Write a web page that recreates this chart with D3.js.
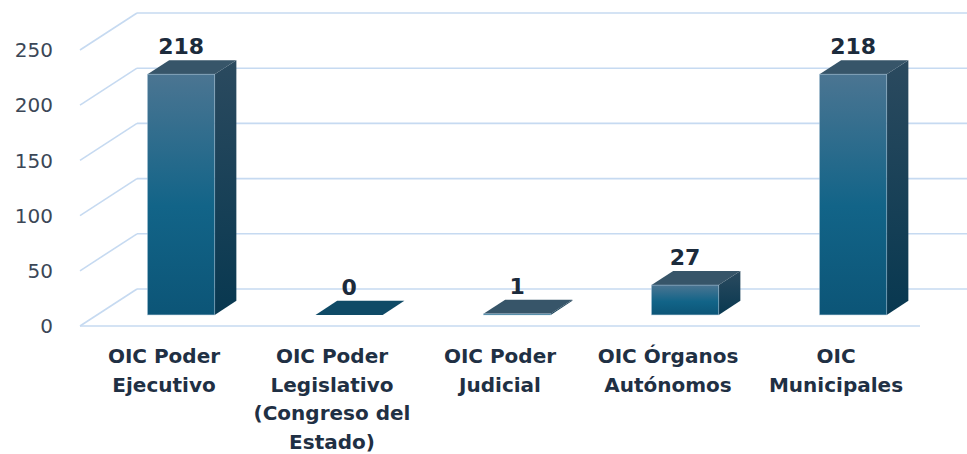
<!DOCTYPE html>
<html>
<head>
<meta charset="utf-8">
<script src="https://cdn.jsdelivr.net/npm/d3@7"></script>
<style>
  html, body { margin: 0; padding: 0; background: #fff; }
  svg { display: block; }
</style>
</head>
<body>
<svg id="chart" width="967" height="454"></svg>
<script>
// data
const categories = [
  ['OIC Poder', 'Ejecutivo'],
  ['OIC Poder', 'Legislativo', '(Congreso del', 'Estado)'],
  ['OIC Poder', 'Judicial'],
  ['OIC Órganos', 'Autónomos'],
  ['OIC', 'Municipales']
];
const values = [218, 0, 1, 27, 218];
const yTicks = [0, 50, 100, 150, 200, 250];

const keys = categories.map((c, i) => 'c' + i);

// oblique "3d" depth: full depth of the box, bars sit in a slice of it
const depth = { dx: 57, dy: -37 };
const barZ = [0.3, 0.68];

const svg = d3.select('#chart');
const g = svg.append('g');

const xScale = d3.scaleBand()
    .domain(keys)
    .range([80, 920])
    .paddingInner(0.6)
    .paddingOuter(0.3);

const yScale = d3.scaleLinear()
    .domain([0, 250])
    .range([326, 50]);

const off = z => [depth.dx * z, depth.dy * z];

// gradients
const defs = svg.append('defs');
const front = defs.append('linearGradient').attr('id', 'front')
    .attr('x1', 0).attr('y1', 0).attr('x2', 0).attr('y2', 1);
front.append('stop').attr('offset', '0%').attr('stop-color', '#4b7592');
front.append('stop').attr('offset', '55%').attr('stop-color', '#126488');
front.append('stop').attr('offset', '100%').attr('stop-color', '#0c5577');
const side = defs.append('linearGradient').attr('id', 'side')
    .attr('x1', 0).attr('y1', 0).attr('x2', 0).attr('y2', 1);
side.append('stop').attr('offset', '0%').attr('stop-color', '#2b4a5f');
side.append('stop').attr('offset', '100%').attr('stop-color', '#083850');

// grid: back wall lines + left wall diagonals + floor front edge
const gridColor = '#c6daf1';
const grid = g.append('g').attr('class', 'grid');
const [bx, by] = off(1);
grid.selectAll('.back-line')
    .data(yTicks)
    .enter().append('line')
    .attr('x1', 80 + bx).attr('x2', 920 + bx)
    .attr('y1', d => yScale(d) + by).attr('y2', d => yScale(d) + by)
    .attr('stroke', gridColor).attr('stroke-width', 1.6);
grid.selectAll('.side-line')
    .data(yTicks)
    .enter().append('line')
    .attr('x1', 80).attr('x2', 80 + bx)
    .attr('y1', d => yScale(d)).attr('y2', d => yScale(d) + by)
    .attr('stroke', gridColor).attr('stroke-width', 1.6);
grid.append('line')
    .attr('x1', 80).attr('x2', 920)
    .attr('y1', yScale(0)).attr('y2', yScale(0))
    .attr('stroke', gridColor).attr('stroke-width', 1.6);

// y axis labels
g.selectAll('.ytick')
    .data(yTicks)
    .enter().append('text')
    .attr('x', 53)
    .attr('y', d => yScale(d))
    .attr('dy', '0.36em')
    .attr('text-anchor', 'end')
    .style('font-family', 'DejaVu Sans')
    .style('font-size', '20px')
    .style('fill', '#3b4757')
    .text(d => d);

// bars
const [fx, fy] = off(barZ[0]);
const [kx, ky] = off(barZ[1]);
const w = xScale.bandwidth();
const y0 = yScale(0);

const bars = g.selectAll('.bar')
    .data(values.map((v, i) => ({ key: keys[i], value: v })))
    .enter().append('g')
    .attr('class', 'bar');

// side face
bars.append('polygon')
    .attr('points', d => {
        const x = xScale(d.key), y = yScale(d.value);
        return [[x + w + fx, y + fy], [x + w + kx, y + ky], [x + w + kx, y0 + ky], [x + w + fx, y0 + fy]].join(' ');
    })
    .attr('fill', 'url(#side)');

// top face
bars.append('polygon')
    .attr('points', d => {
        const x = xScale(d.key), y = yScale(d.value);
        return [[x + fx, y + fy], [x + w + fx, y + fy], [x + w + kx, y + ky], [x + kx, y + ky]].join(' ');
    })
    .attr('fill', d => d.value === 0 ? '#0f4a66' : '#375569');

// front face
bars.filter(d => d.value > 0).append('rect')
    .attr('x', d => xScale(d.key) + fx)
    .attr('y', d => yScale(d.value) + fy)
    .attr('width', w)
    .attr('height', d => y0 - yScale(d.value))
    .attr('fill', 'url(#front)')
    .attr('stroke', '#a8c3d8')
    .attr('stroke-opacity', 0.55)
    .attr('stroke-width', 0.8);

// value labels
bars.append('text')
    .attr('x', d => xScale(d.key) + fx + w / 2)
    .attr('y', d => yScale(d.value) + ky - 6)
    .attr('text-anchor', 'middle')
    .style('font-family', 'DejaVu Sans')
    .style('font-weight', 'bold')
    .style('font-size', '22px')
    .style('fill', '#1c2b3c')
    .text(d => d.value);

// category labels
g.selectAll('.cat')
    .data(categories)
    .enter().append('text')
    .attr('class', 'cat')
    .attr('text-anchor', 'middle')
    .style('font-family', 'DejaVu Sans')
    .style('font-weight', 'bold')
    .style('font-size', '20px')
    .style('fill', '#1f3044')
    .each(function(lines, i) {
        const cx = xScale(keys[i]) + w / 2;
        d3.select(this).selectAll('tspan')
            .data(lines)
            .enter().append('tspan')
            .attr('x', cx)
            .attr('y', (l, j) => 363 + j * 28.5)
            .text(l => l);
    });
</script>
</body>
</html>
